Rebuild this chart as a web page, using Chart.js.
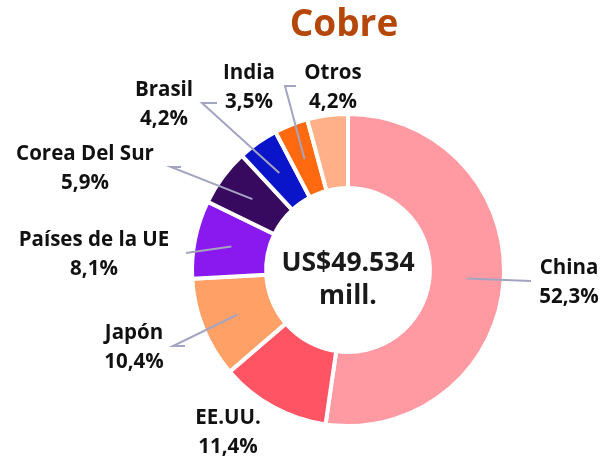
<!DOCTYPE html>
<html>
<head>
<meta charset="utf-8">
<script src="https://cdn.jsdelivr.net/npm/chart.js@4"></script>
<style>
  body { margin: 0; background: #fff; }
  canvas { display: block; }
</style>
</head>
<body>
<canvas id="cobreChart" width="605" height="460"></canvas>
<script>
const countries = ['China', 'EE.UU.', 'Japón', 'Países de la UE', 'Corea Del Sur', 'Brasil', 'India', 'Otros'];
const shares = [52.3, 11.4, 10.4, 8.1, 5.9, 4.2, 3.5, 4.2];
const sliceColors = ['#FF9AA2', '#FF5463', '#FFA066', '#8A19F0', '#380A5F', '#0A14C8', '#FF6A10', '#FFB088'];
const totalMillions = 49534;

// where each label sits, relative to the doughnut centre, plus the leader path (label side first)
const labelPlacement = [
  { x: 221, y: 12, path: [[183, 11]] },
  { x: -120, y: 162, path: null },
  { x: -214, y: 77, path: [[-175, 76], [-163, 76]] },
  { x: -254, y: -16, path: [[-162, -17]] },
  { x: -263, y: -102, path: [[-177, -103], [-167, -103]] },
  { x: -184, y: -166, path: [[-146, -167], [-131, -167]] },
  { x: -99, y: -183, path: [[-63, -184], [-52, -184]] },
  { x: -15, y: -183, path: null }
];

function fmtPct(v) {
  return v.toFixed(1).replace('.', ',') + '%';
}

function fmtThousands(n) {
  return String(n).replace(/\B(?=(\d{3})+(?!\d))/g, '.');
}

const labelsPlugin = {
  id: 'doughnutLabels',
  afterDatasetsDraw(chart) {
    const ctx = chart.ctx;
    const meta = chart.getDatasetMeta(0);
    const cx = meta.data[0].x;
    const cy = meta.data[0].y;

    // leader lines
    ctx.save();
    ctx.strokeStyle = '#A3A5C0';
    ctx.lineWidth = 2;
    meta.data.forEach((arc, i) => {
      const p = labelPlacement[i].path;
      if (!p) return;
      const mid = arc.getCenterPoint();
      ctx.beginPath();
      ctx.moveTo(mid.x, mid.y);
      p.forEach(pt => ctx.lineTo(cx + pt[0], cy + pt[1]));
      ctx.stroke();
    });
    ctx.restore();

    // slice labels
    ctx.save();
    ctx.fillStyle = '#111';
    ctx.textAlign = 'center';
    ctx.textBaseline = 'middle';
    ctx.font = 'bold 20.5px "Open Sans"';
    countries.forEach((name, i) => {
      const lp = labelPlacement[i];
      ctx.fillText(name, cx + lp.x, cy + lp.y - 14);
      ctx.fillText(fmtPct(shares[i]), cx + lp.x, cy + lp.y + 15);
    });

    // centre total
    ctx.font = 'bold 26.5px "Open Sans"';
    ctx.fillStyle = '#1a1a1a';
    ctx.fillText('US$' + fmtThousands(totalMillions), cx, cy - 7);
    ctx.fillText('mill.', cx, cy + 26);

    // title
    ctx.font = 'bold 37px "Open Sans"';
    ctx.fillStyle = '#B5470B';
    ctx.fillText('Cobre', cx - 4, 25);
    ctx.restore();
  }
};

const ctx = document.getElementById('cobreChart').getContext('2d');
const cobreChart = new Chart(ctx, {
  type: 'doughnut',
  data: {
    labels: countries,
    datasets: [{
      data: shares,
      backgroundColor: sliceColors,
      borderColor: '#fff',
      borderWidth: 4
    }]
  },
  options: {
    responsive: false,
    devicePixelRatio: 1,
    animation: false,
    cutout: '52.5%',
    layout: {
      padding: { left: 189, right: 98, top: 112, bottom: 32 }
    },
    plugins: {
      legend: { display: false },
      tooltip: { enabled: false }
    }
  },
  plugins: [labelsPlugin]
});
</script>
</body>
</html>
